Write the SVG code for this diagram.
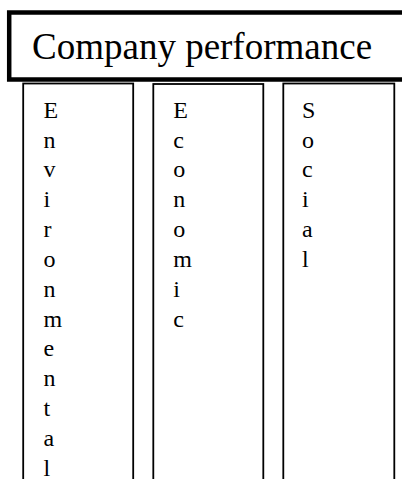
<svg xmlns="http://www.w3.org/2000/svg" width="402" height="479" viewBox="0 0 402 479">
  <style>
    .header { fill: #ffffff; stroke: #000000; stroke-width: 4.5; }
    .pillar { fill: #ffffff; stroke: #000000; stroke-width: 1.8; }
    text { font-family: 'Times New Roman', Times, 'Liberation Serif', Tinos, 'Nimbus Roman', 'Noto Serif', 'DejaVu Serif', serif; fill: #000000; }
    .title { font-size: 37px; }
    .label { font-size: 24px; }
  </style>
  <rect width="402" height="479" fill="#ffffff"/>
  <!-- three pillars hanging below the header -->
  <g id="environmental">
    <rect class="pillar" x="23.2" y="83.5" width="110" height="410"/>
    <text class="label" x="43.5" y="117.7">
      <tspan x="43.5">E</tspan><tspan x="43.5" dy="29.83">n</tspan><tspan x="43.5" dy="29.83">v</tspan><tspan x="43.5" dy="29.83">i</tspan><tspan x="43.5" dy="29.83">r</tspan><tspan x="43.5" dy="29.83">o</tspan><tspan x="43.5" dy="29.83">n</tspan><tspan x="43.5" dy="29.83">m</tspan><tspan x="43.5" dy="29.83">e</tspan><tspan x="43.5" dy="29.83">n</tspan><tspan x="43.5" dy="29.83">t</tspan><tspan x="43.5" dy="29.83">a</tspan><tspan x="43.5" dy="29.83">l</tspan>
    </text>
  </g>
  <g id="economic">
    <rect class="pillar" x="153.3" y="84" width="110" height="410"/>
    <text class="label" x="173.2" y="117.7">
      <tspan x="173.2">E</tspan><tspan x="173.2" dy="29.83">c</tspan><tspan x="173.2" dy="29.83">o</tspan><tspan x="173.2" dy="29.83">n</tspan><tspan x="173.2" dy="29.83">o</tspan><tspan x="173.2" dy="29.83">m</tspan><tspan x="173.2" dy="29.83">i</tspan><tspan x="173.2" dy="29.83">c</tspan>
    </text>
  </g>
  <g id="social">
    <rect class="pillar" x="283.3" y="83.5" width="111" height="410"/>
    <text class="label" x="302" y="117.7">
      <tspan x="302">S</tspan><tspan x="302" dy="29.83">o</tspan><tspan x="302" dy="29.83">c</tspan><tspan x="302" dy="29.83">i</tspan><tspan x="302" dy="29.83">a</tspan><tspan x="302" dy="29.83">l</tspan>
    </text>
  </g>
  <!-- header box, open past the right edge -->
  <g id="company-performance">
    <rect class="header" x="9.2" y="12.5" width="420" height="67"/>
    <text class="title" x="32" y="59">Company performance</text>
  </g>
  <g id="connectors"/>
</svg>
